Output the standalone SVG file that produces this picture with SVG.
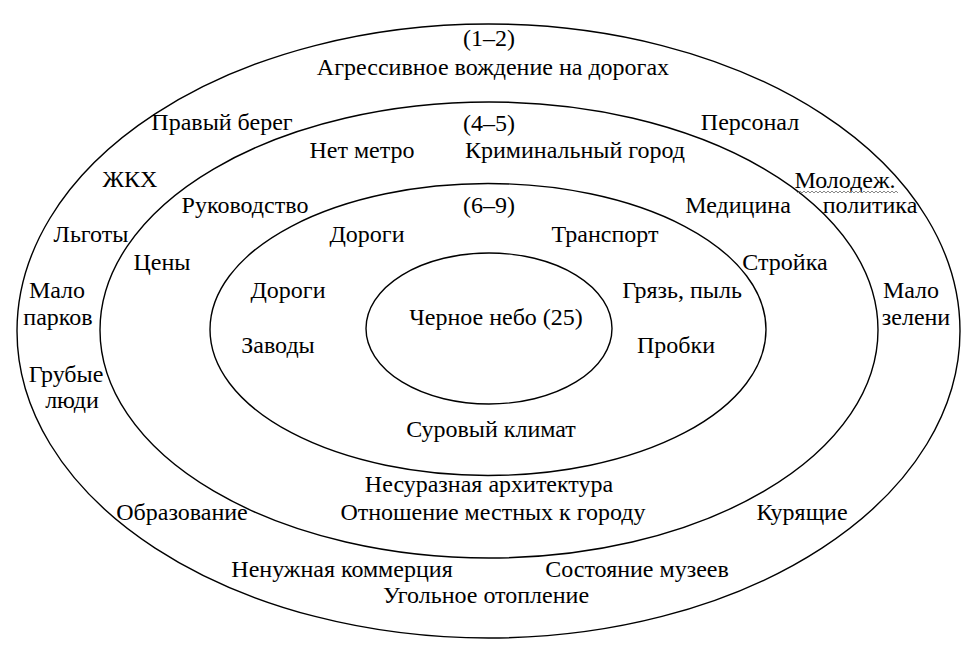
<svg xmlns="http://www.w3.org/2000/svg" width="977" height="655" viewBox="0 0 977 655">
<style>
.ring{fill:none;stroke:#000;stroke-width:1.4}
text{font-family:"Liberation Serif","Times New Roman",serif;font-size:24px;fill:#000;text-anchor:middle}
</style>
<rect width="977" height="655" fill="#fff"/>
<g id="ring1"><ellipse class="ring" cx="488.5" cy="331" rx="471.5" ry="307"/></g>
<g id="ring2"><ellipse class="ring" cx="489" cy="330" rx="389" ry="228"/></g>
<g id="ring3"><ellipse class="ring" cx="488" cy="329.5" rx="278" ry="146"/></g>
<g id="ring4"><ellipse class="ring" cx="489" cy="328.5" rx="123" ry="75.5"/></g>
<g id="labels">
<text x="489" y="46">(1–2)</text>
<text x="493" y="75">Агрессивное вождение на дорогах</text>
<text x="222" y="130">Правый берег</text>
<text x="750" y="130">Персонал</text>
<text x="489" y="131">(4–5)</text>
<text x="362" y="158">Нет метро</text>
<text x="575" y="158">Криминальный город</text>
<text x="130" y="187">ЖКХ</text>
<text x="845" y="188">Молодеж.</text>
<path d="M796 191 l2 2 l2 -2 l2 2 l2 -2 l2 2 l2 -2 l2 2 l2 -2 l2 2 l2 -2 l2 2 l2 -2 l2 2 l2 -2 l2 2 l2 -2 l2 2 l2 -2 l2 2 l2 -2 l2 2 l2 -2 l2 2 l2 -2 l2 2 l2 -2 l2 2 l2 -2 l2 2 l2 -2 l2 2 l2 -2 l2 2 l2 -2 l2 2 l2 -2 l2 2 l2 -2 l2 2 l2 -2 l2 2 l2 -2 l2 2 l2 -2 l2 2 l2 -2 l2 2 l2 -2 l2 2 l2 -2 l2 2" fill="none" stroke="#888" stroke-width="1"/>
<text x="870" y="213">политика</text>
<text x="245" y="213">Руководство</text>
<text x="489" y="213">(6–9)</text>
<text x="738" y="213">Медицина</text>
<text x="91" y="242">Льготы</text>
<text x="367" y="242">Дороги</text>
<text x="605" y="242">Транспорт</text>
<text x="162" y="270">Цены</text>
<text x="785" y="270">Стройка</text>
<text x="57" y="298">Мало</text>
<text x="58" y="325">парков</text>
<text x="288" y="298">Дороги</text>
<text x="682" y="298">Грязь, пыль</text>
<text x="911" y="298">Мало</text>
<text x="916" y="325">зелени</text>
<text x="496" y="325">Черное небо (25)</text>
<text x="278" y="353">Заводы</text>
<text x="676" y="353">Пробки</text>
<text x="66" y="382">Грубые</text>
<text x="72" y="408">люди</text>
<text x="491" y="437">Суровый климат</text>
<text x="489" y="492">Несуразная архитектура</text>
<text x="182" y="520">Образование</text>
<text x="493" y="520">Отношение местных к городу</text>
<text x="802" y="520">Курящие</text>
<text x="342" y="577">Ненужная коммерция</text>
<text x="637" y="577">Состояние музеев</text>
<text x="486" y="603">Угольное отопление</text>
</g>
</svg>
